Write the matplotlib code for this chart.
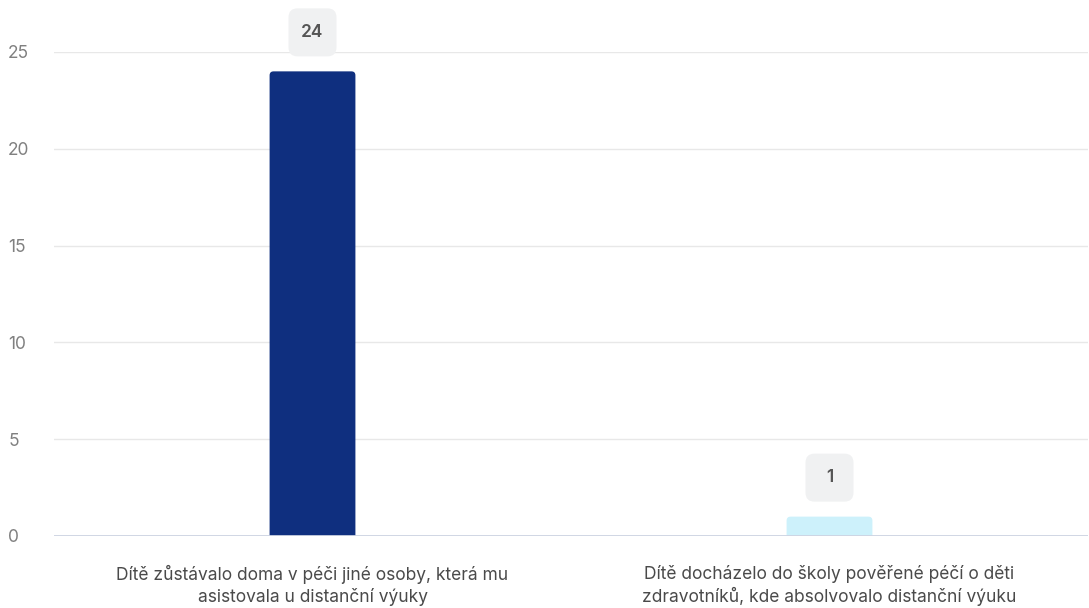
import matplotlib.pyplot as plt
from matplotlib.patches import FancyBboxPatch
import numpy as np

categories = ["Dítě zůstávalo doma v péči jiné osoby, která mu\nasistovala u distanční výuky",
              "Dítě docházelo do školy pověřené péčí o děti\nzdravotníků, kde absolvovalo distanční výuku"]
values = [24, 1]
colors = ["#0f2f7f", "#cdf1fb"]
yticks = [0, 5, 10, 15, 20, 25]

plt.rcParams['font.family'] = ['Inter', 'DejaVu Sans']

W, H = 1089, 608
fig = plt.figure(figsize=(W/100, H/100), dpi=100)
ax_l, ax_r, ax_t, ax_b = 54, 1088, 52, 536
ax = fig.add_axes([ax_l/W, (H-ax_b)/H, (ax_r-ax_l)/W, (ax_b-ax_t)/H])
ax.set_xlim(-0.5, 1.5)
ax.set_ylim(0, 25)

x_per_px = 2.0/(ax_r-ax_l)
y_per_px = 25.0/(ax_b-ax_t)
aspect = y_per_px/x_per_px

x = np.arange(len(categories))
bw = 0.166
r = 4*x_per_px
for xi, v, c in zip(x, values, colors):
    p = FancyBboxPatch((xi - bw/2 + r, -6*y_per_px + r*aspect), bw - 2*r, v + 6*y_per_px - 2*r*aspect,
                       boxstyle=f"round,pad={r},rounding_size={r}",
                       mutation_aspect=aspect, fc=c, ec='none', zorder=3, clip_on=True)
    ax.add_patch(p)

ax.set_yticks(yticks)
ax.set_yticklabels([str(t) for t in yticks])
ax.set_xticks(x)
ax.set_xticklabels(categories, fontsize=12.5, color='#4a4a4a', linespacing=1.25)
ax.tick_params(axis='x', length=0, pad=21)
ax.tick_params(axis='y', length=0, pad=33, labelsize=12.5, labelcolor='#808080')
for lbl in ax.get_yticklabels():
    lbl.set_horizontalalignment('left')
ax.grid(axis='y', color='#e8e8e8', linewidth=1, zorder=0)
for s in ax.spines.values():
    s.set_visible(False)
ax.axhline(0, color='#cdd4e2', linewidth=1.3, zorder=4)

# value labels in fixed-size rounded boxes
box_w, box_h = 48*x_per_px, 48*y_per_px
for xi, v in zip(x, values):
    cy = v + 39*y_per_px
    rr = 9*x_per_px
    box = FancyBboxPatch((xi - box_w/2 + rr, cy - box_h/2 + rr*aspect), box_w - 2*rr, box_h - 2*rr*aspect,
                         boxstyle=f"round,pad={rr},rounding_size={rr}", mutation_aspect=aspect,
                         fc='#f0f1f2', ec='none', zorder=5, clip_on=False)
    ax.add_patch(box)
    ax.text(xi, cy, str(v), ha='center', va='center', fontsize=12.5, fontweight='semibold',
            color='#555555', zorder=6, clip_on=False)

fig.savefig('out.png', dpi=100)
